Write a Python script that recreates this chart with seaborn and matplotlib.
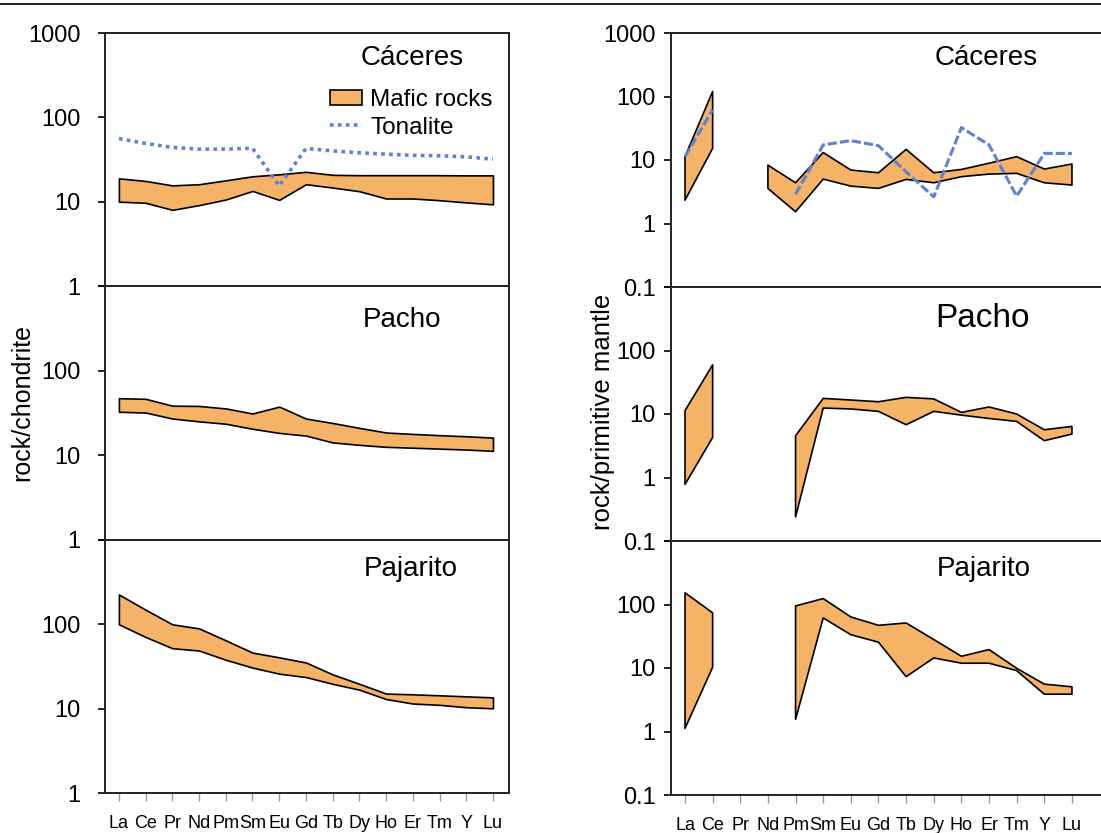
import numpy as np
import pandas as pd
import seaborn as sns
import matplotlib.pyplot as plt
from matplotlib.lines import Line2D
from matplotlib.patches import Patch
from matplotlib.ticker import NullLocator

nan = np.nan

elements = ["La", "Ce", "Pr", "Nd", "Pm", "Sm", "Eu", "Gd", "Tb", "Dy", "Ho", "Er", "Tm", "Y", "Lu"]

# chondrite normalised (left column)
caceres_ch_hi = [18.9, 17.6, 15.6, 16.1, 17.9, 20.0, 21.1, 22.6, 20.8, 20.6, 20.6, 20.6, 20.6, 20.5, 20.5]
caceres_ch_lo = [10.0, 9.7, 8.0, 9.1, 10.6, 13.4, 10.5, 16.1, 14.7, 13.3, 10.9, 10.9, 10.4, 9.8, 9.3]
caceres_ch_ton = [56, 49, 44, 42, 42, 43, 15.4, 42.7, 40, 38, 36.6, 35.4, 35, 34, 31.9]

pacho_ch_hi = [47.3, 46.5, 38.6, 38.3, 35.8, 31.2, 37.6, 27.2, 24.1, 21.1, 18.6, 17.9, 17.3, 16.8, 16.2]
pacho_ch_lo = [32.7, 32.0, 27.2, 25.2, 23.6, 20.6, 18.4, 17.1, 14.2, 13.3, 12.6, 12.3, 12.0, 11.7, 11.3]

pajarito_ch_hi = [226, 149, 100, 89.5, 64.6, 46.2, 40.6, 35.3, 25.5, 19.7, 15.1, 14.8, 14.4, 14.0, 13.6]
pajarito_ch_lo = [100, 70.8, 52.1, 48.9, 38.0, 30.7, 26.0, 23.7, 19.7, 16.8, 13.0, 11.5, 11.1, 10.4, 10.1]

# primitive mantle normalised (right column)
caceres_pm_hi = [11.3, 120, nan, 8.3, 4.38, 13.1, 6.95, 6.3, 14.7, 6.3, 7.1, 8.9, 11.3, 7.2, 8.65]
caceres_pm_lo = [2.33, 15.3, nan, 3.57, 1.53, 5.0, 3.88, 3.57, 4.95, 4.38, 5.46, 6.0, 6.16, 4.38, 4.03]
caceres_pm_ton = [11.3, 61.7, nan, nan, 2.9, 17.3, 20.2, 16.8, 6.5, 2.63, 32.4, 17.3, 2.7, 12.7, 12.7]

pacho_pm_hi = [11.3, 59.4, nan, nan, 4.54, 17.6, 16.6, 15.6, 18.3, 17.3, 10.6, 12.9, 10.0, 5.65, 6.38]
pacho_pm_lo = [0.78, 4.27, nan, nan, 0.24, 12.4, 12.0, 11.0, 6.78, 11.0, 9.6, 8.5, 7.65, 3.8, 4.83]

pajarito_pm_hi = [153, 73.8, nan, nan, 95, 124, 63.7, 47, 51.2, 28.1, 15.3, 19.5, 9.9, 5.57, 5.06]
pajarito_pm_lo = [1.12, 10.3, nan, nan, 1.55, 61.5, 33.4, 25.5, 7.3, 14.4, 11.9, 11.9, 9.1, 3.87, 3.87]

sns.set_theme(style="ticks")
plt.rcParams["font.family"] = ["Liberation Sans", "DejaVu Sans"]
plt.rcParams["text.color"] = "black"

fill_col = "#F4B366"
ton_col = "#5B82D6"
W, H = 1101, 833

fig = plt.figure(figsize=(W / 100, H / 100), dpi=100)
fig.patch.set_facecolor("white")


def make_ax(left, right, top, bottom):
    return fig.add_axes([left / W, 1 - bottom / H, (right - left) / W, (bottom - top) / H])


x = np.arange(len(elements))

left_rows = [(33, 286), (286, 540), (540, 793)]
right_rows = [(33, 287), (287, 541), (541, 795)]

left_data = [(caceres_ch_lo, caceres_ch_hi, "Cáceres"),
             (pacho_ch_lo, pacho_ch_hi, "Pacho"),
             (pajarito_ch_lo, pajarito_ch_hi, "Pajarito")]
right_data = [(caceres_pm_lo, caceres_pm_hi, "Cáceres"),
              (pacho_pm_lo, pacho_pm_hi, "Pacho"),
              (pajarito_pm_lo, pajarito_pm_hi, "Pajarito")]

# title positions (pixel x centre, y centre) and sizes
left_titles = [(412, 58, 20), (402, 320, 20), (411, 569, 20)]
right_titles = [(986, 58, 20), (982, 318, 24), (984, 569, 20)]


def style_ax(ax, i, ylo, ticks, labels, pad, xlim):
    ax.set_yscale("log")
    ax.set_ylim(ylo, 1000)
    ax.set_xlim(*xlim)
    ax.set_yticks(ticks)
    ax.set_yticklabels(labels)
    ax.yaxis.set_minor_locator(NullLocator())
    ax.tick_params(axis="y", direction="out", length=5, width=1.2, color="black",
                   labelsize=17, pad=pad, labelcolor="black")
    for s in ax.spines.values():
        s.set_linewidth(1.4)
        s.set_color("#222222")
        s.set_visible(True)
    ax.set_facecolor("white")
    ax.grid(False)
    if i == 2:
        ax.set_xticks(x)
        ax.set_xticklabels(elements)
        ax.tick_params(axis="x", direction="out", length=6, width=1, color="#999999",
                       labelsize=13, pad=10, labelcolor="black")
    else:
        ax.set_xticks([])
    ax.set_xlabel("")
    ax.set_ylabel("")


for i, ((top, bot), (lo, hi, name)) in enumerate(zip(left_rows, left_data)):
    ax = make_ax(105, 509, top, bot)
    ax.fill_between(x, lo, hi, facecolor=fill_col, edgecolor="black", linewidth=1.2, zorder=2)
    labels = ["1", "10", "100", "1000"] if i == 0 else ["1", "10", "100", ""]
    style_ax(ax, i, 1, [1, 10, 100, 1000], labels, 12.5, (-0.52, 14.6))
    tx, ty, fs = left_titles[i]
    fig.text(tx / W, 1 - ty / H, name, ha="center", va="center", fontsize=fs)
    if i == 0:
        df = pd.DataFrame({"x": x, "y": caceres_ch_ton})
        sns.lineplot(data=df, x="x", y="y", ax=ax, color=ton_col, linestyle=(0, (1, 1.2)),
                     linewidth=2.6, zorder=3)
        handles = [Patch(facecolor=fill_col, edgecolor="black", linewidth=1.2),
                   Line2D([0], [0], color=ton_col, linestyle=(0, (1, 1.2)), linewidth=2.6)]
        leg = ax.legend(handles, ["Mafic rocks", "Tonalite"], loc="upper left",
                        bbox_to_anchor=(0.515, 0.845), frameon=False, fontsize=17.5,
                        handlelength=1.3, handleheight=0.6, handletextpad=0.35,
                        labelspacing=0.22, borderpad=0.2)
        ax.set_xlabel("")
        ax.set_ylabel("")

for i, ((top, bot), (lo, hi, name)) in enumerate(zip(right_rows, right_data)):
    ax = make_ax(671, 1104, top, bot)
    ax.fill_between(x, lo, hi, facecolor=fill_col, edgecolor="black", linewidth=1.2, zorder=2)
    labels = ["0.1", "1", "10", "100", "1000"] if i == 0 else ["0.1", "1", "10", "100", ""]
    style_ax(ax, i, 0.1, [0.1, 1, 10, 100, 1000], labels, 6, (-0.507, 15.16))
    tx, ty, fs = right_titles[i]
    fig.text(tx / W, 1 - ty / H, name, ha="center", va="center", fontsize=fs)
    if i == 0:
        ton = np.array(caceres_pm_ton, dtype=float)
        seg = np.cumsum(np.isnan(ton))
        df = pd.DataFrame({"x": x, "y": ton, "seg": seg}).dropna()
        sns.lineplot(data=df, x="x", y="y", units="seg", estimator=None, ax=ax,
                     color=ton_col, linestyle=(0, (3, 1)), linewidth=2.2, zorder=3)
        ax.set_xlabel("")
        ax.set_ylabel("")

fig.text(22 / W, 1 - 403 / H, "rock/chondrite", rotation=90, ha="center", va="center", fontsize=18)
fig.text(603 / W, 1 - 412 / H, "rock/primitive mantle", rotation=90, ha="center", va="center", fontsize=18.5)

fig.add_artist(Line2D([0, 1], [1 - 4 / H, 1 - 4 / H], transform=fig.transFigure,
                      color="#222222", linewidth=1.4))

fig.savefig("out.png", dpi=100)
